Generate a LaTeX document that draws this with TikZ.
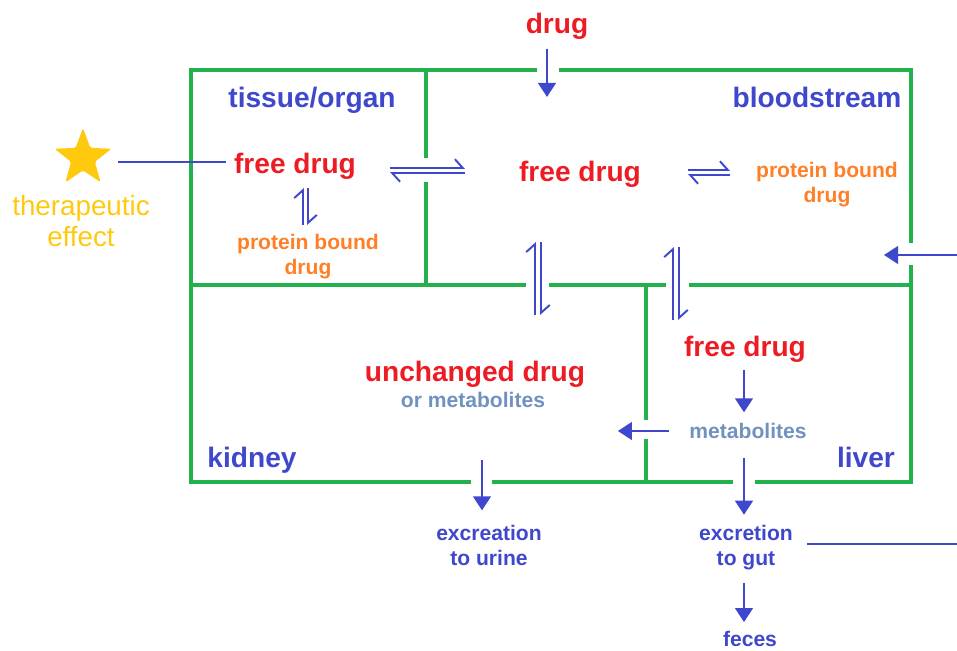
\documentclass[tikz,border=0pt]{standalone}
\usepackage{fontspec}
\setmainfont{Liberation Sans}
\usepackage{xcolor}
\usetikzlibrary{arrows.meta,shapes.geometric}

\definecolor{wallgreen}{RGB}{34,177,76}
\definecolor{drugred}{RGB}{237,28,36}
\definecolor{roomblue}{RGB}{63,72,204}
\definecolor{boundorange}{RGB}{255,127,39}
\definecolor{metabgray}{RGB}{112,146,190}
\definecolor{effectyellow}{RGB}{255,201,14}

\begin{document}
\begin{tikzpicture}[
  x=0.02cm, y=-0.02cm,
  wall/.style={draw=wallgreen, line width=2.8pt},
  flow/.style={-{Triangle[length=8pt, width=10pt]}, draw=roomblue, line width=1.6pt},
  link/.style={draw=roomblue, line width=1.6pt},
  harpoon/.style={-{Straight Barb[left, length=4.5pt, width=10pt]}, draw=roomblue, line width=1.1pt},
  txt/.style={inner sep=0pt, align=center},
  druglabel/.style={txt, text=drugred, font=\bfseries\fontsize{16}{19}\selectfont},
  roomlabel/.style={txt, text=roomblue, font=\bfseries\fontsize{16}{19}\selectfont},
  boundlabel/.style={txt, text=boundorange, font=\bfseries\fontsize{12}{14.2}\selectfont},
  metablabel/.style={txt, text=metabgray, font=\bfseries\fontsize{12}{14.2}\selectfont},
  outlabel/.style={txt, text=roomblue, font=\bfseries\fontsize{12}{14.2}\selectfont}
]
\useasboundingbox (0,0) rectangle (957,651);

% compartment walls
\draw[wall] (537,70) -- (191,70) -- (191,482) -- (471,482);
\draw[wall] (492,482) -- (733,482);
\draw[wall] (755,482) -- (911,482) -- (911,265);
\draw[wall] (911,243) -- (911,70) -- (559,70);
\draw[wall] (426,70) -- (426,158);
\draw[wall] (426,182) -- (426,285);
\draw[wall] (191,285) -- (526,285);
\draw[wall] (549,285) -- (666,285);
\draw[wall] (689,285) -- (911,285);
\draw[wall] (646,285) -- (646,420);
\draw[wall] (646,439) -- (646,482);

% labels
\node[druglabel] (dose) at (557,26) {drug};
\node[roomlabel] (tissue) at (312,100) {tissue/organ};
\node[roomlabel] (blood) at (817,97) {bloodstream};
\node[roomlabel] (kidney) at (252,460) {kidney};
\node[roomlabel] (liver) at (866,457) {liver};

\node[druglabel] (tfree) at (295,166) {free drug};
\node[druglabel] (bfree) at (580,174) {free drug};
\node[druglabel] (lfree) at (745,349) {free drug};
\node[druglabel] (kdrug) at (475,374) {unchanged drug};
\node[metablabel] (kmet) at (473,400) {or metabolites};
\node[metablabel] (lmet) at (748,431) {metabolites};
\node[boundlabel] (tbound) at (308,257) {protein bound\\drug};
\node[boundlabel] (bbound) at (827,185) {protein bound\\drug};

\node[star, star points=5, star point ratio=2.4, fill=effectyellow,
  rounded corners=1pt, minimum size=1.2cm, inner sep=0pt] (star) at (83,158) {};
\node[txt, text=effectyellow, font=\fontsize{15.8}{17.6}\selectfont] (effect)
  at (81,221) {therapeutic\\effect};

\node[outlabel] (urine) at (489,545) {excreation\\to urine};
\node[outlabel] (gut) at (746,548) {excretion\\to gut};
\node[outlabel] (feces) at (750,639) {feces};

% arrows
\coordinate (entry) at (547,97);
\coordinate (recirc) at (884,255);
\coordinate (recircin) at (957,255);
\coordinate (gutout) at (957,544);
\coordinate (effectend) at (118,162);
\draw[flow] (dose.south -| entry) ++(0,9) -- (entry);
\draw[flow] (recircin) -- (recirc);
\draw[link] (effectend) -- ([xshift=-4.5pt]tfree.west |- effectend);
\draw[link] ([xshift=8pt]gut.east |- gutout) -- (gutout);
\draw[flow] ([yshift=-4pt]lfree.south -| 744,0) -- ([yshift=6pt]lmet.north -| 744,0);
\draw[flow] ([xshift=-11.5pt]lmet.west) -- ++(-51,0);
\draw[flow] (744,458) -- ([yshift=6pt]gut.north -| 744,0);
\draw[flow] (744,583) -- ([yshift=5pt]feces.north -| 744,0);
\draw[flow] (482,460) -- ([yshift=8pt]urine.north -| 482,0);

% equilibria
\draw[harpoon] (390,168) -- (465,168);
\draw[harpoon] (465,173) -- (390,173);
\draw[harpoon] (688,170) -- (730,170);
\draw[harpoon] (730,175) -- (688,175);
\draw[harpoon] (303,225) -- (303,188);
\draw[harpoon] (308,188) -- (308,225);
\draw[harpoon] (535,315) -- (535,242);
\draw[harpoon] (541,242) -- (541,315);
\draw[harpoon] (673,320) -- (673,247);
\draw[harpoon] (679,247) -- (679,320);
\end{tikzpicture}
\end{document}
